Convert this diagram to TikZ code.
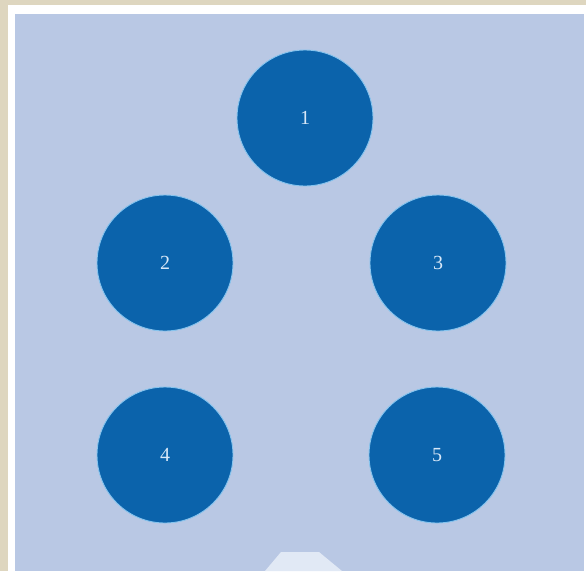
\documentclass[tikz,border=0pt]{standalone}
\usepackage{fontspec}
\setmainfont{Liberation Serif}
\usepackage{xcolor}
\usepackage{tikz}
\usetikzlibrary{positioning}

\definecolor{frameclr}{HTML}{DED6BF}
\definecolor{panelclr}{HTML}{B9C8E4}
\definecolor{discclr}{HTML}{0B63AB}
\definecolor{rimclr}{HTML}{86C4EE}
\definecolor{digitclr}{HTML}{D8E8F8}
\definecolor{tabclr}{HTML}{E1E9F5}

\begin{document}
\begin{tikzpicture}[
  x=1pt, y=-1pt,
  disc/.style={circle, fill=discclr, draw=rimclr, line width=0.9pt,
    minimum size=136pt, inner sep=0pt, text=digitclr,
    font=\fontsize{20}{22}\selectfont},
]
% Frame and panel
\useasboundingbox (0,0) rectangle (586,571);
\fill[frameclr] (0,0) rectangle (586,571);
\fill[white] (8,5) rectangle (586,571);
\fill[panelclr] (15,14) rectangle (584,571);

% Partly hidden tab at the bottom
\fill[tabclr] (265,571) -- (281,552) -- (319,552) -- (342,571) -- cycle;

% Discs
\node[disc] (D1) at (305,118) {1};
\node[disc] (D2) at (165,263) {2};
\node[disc] (D3) at (438,263) {3};
\node[disc] (D4) at (165,455) {4};
\node[disc] (D5) at (437,455) {5};
\end{tikzpicture}
\end{document}
